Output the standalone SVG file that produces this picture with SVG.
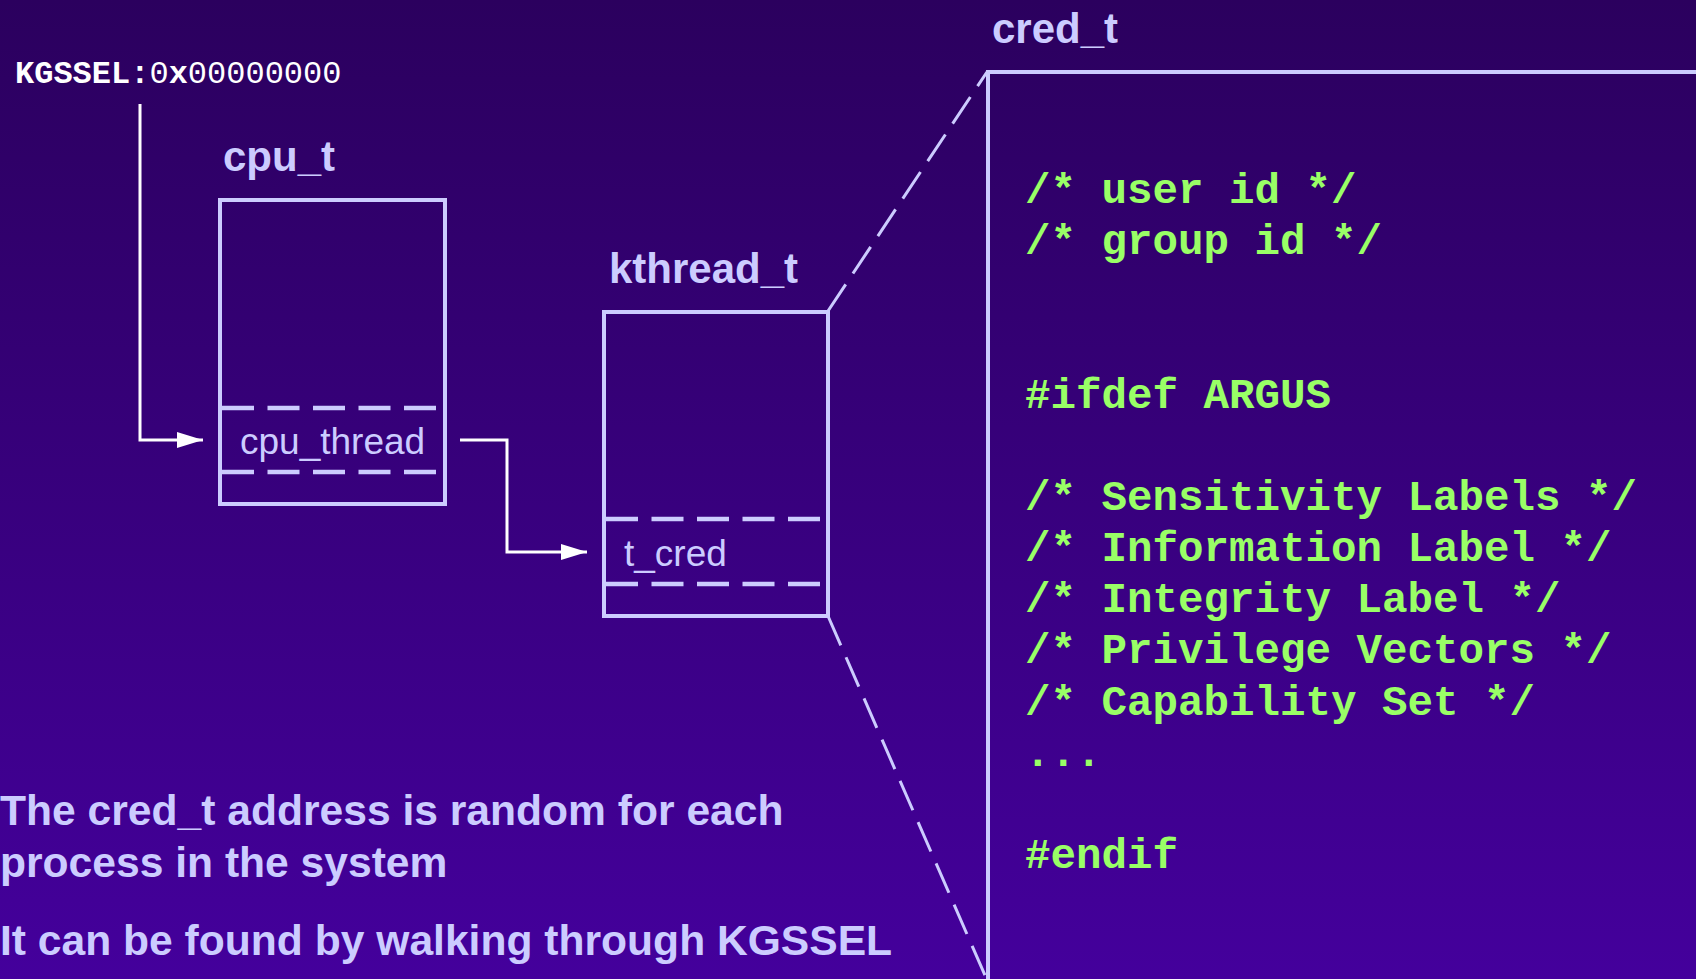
<svg xmlns="http://www.w3.org/2000/svg" width="1696" height="979" viewBox="0 0 1696 979">
<defs>
<linearGradient id="bg" x1="0" y1="0" x2="0" y2="1">
<stop offset="0" stop-color="#2b005e"/>
<stop offset="1" stop-color="#44009c"/>
</linearGradient>
<marker id="arr" viewBox="0 0 26 16" refX="26" refY="8" markerWidth="26" markerHeight="16" markerUnits="userSpaceOnUse" orient="auto">
<path d="M0,0 L26,8 L0,16 Z" fill="#ffffff"/>
</marker>
<style>
.box{fill:none;stroke:#ccccff;stroke-width:4}
.dash{fill:none;stroke:#ccccff;stroke-width:4.5;stroke-dasharray:32 13.5}
.diag{fill:none;stroke:#ccccff;stroke-width:3;stroke-dasharray:32 13}
.conn{fill:none;stroke:#ffffff;stroke-width:3}
.title{font-family:"Liberation Sans",Arial,sans-serif;font-weight:bold;font-size:42px;fill:#ccccff}
.field{font-family:"Liberation Sans",Arial,sans-serif;font-size:37px;fill:#ccccff}
.code{font-family:"Liberation Mono","Courier New",monospace;font-weight:bold;font-size:42.5px;fill:#99ff66;white-space:pre}
.note{font-family:"Liberation Sans",Arial,sans-serif;font-weight:bold;font-size:42.6px;fill:#ccccff}
</style>
</defs>
<rect width="1696" height="979" fill="url(#bg)"/>

<g id="kgssel">
<text x="15" y="83" font-family="'Liberation Mono','Courier New',monospace" font-size="32" fill="#ffffff"><tspan font-weight="bold">KGSSEL:</tspan>0<tspan font-weight="bold">x</tspan>00000000</text>
</g>

<g id="cpu_t">
<text class="title" x="223" y="171">cpu_t</text>
<rect class="box" x="220" y="200" width="225" height="304"/>
<line class="dash" x1="222" y1="408" x2="440" y2="408"/>
<line class="dash" x1="222" y1="472" x2="440" y2="472"/>
<text class="field" x="240" y="454">cpu_thread</text>
</g>

<g id="kthread_t">
<text class="title" x="609" y="283">kthread_t</text>
<rect class="box" x="604" y="312" width="224" height="304"/>
<line class="dash" x1="606" y1="519" x2="824" y2="519"/>
<line class="dash" x1="606" y1="584" x2="824" y2="584"/>
<text class="field" x="624" y="566">t_cred</text>
</g>

<g id="cred_t">
<text class="title" x="992" y="43">cred_t</text>
<path class="box" d="M1700,72 L988,72 L988,985"/>
<text class="code" x="1025" y="203">/* user id */</text>
<text class="code" x="1025" y="254">/* group id */</text>
<text class="code" x="1025" y="408">#ifdef ARGUS</text>
<text class="code" x="1025" y="510">/* Sensitivity Labels */</text>
<text class="code" x="1025" y="561">/* Information Label */</text>
<text class="code" x="1025" y="612">/* Integrity Label */</text>
<text class="code" x="1025" y="663">/* Privilege Vectors */</text>
<text class="code" x="1025" y="715">/* Capability Set */</text>
<text class="code" x="1025" y="766">...</text>
<text class="code" x="1025" y="868">#endif</text>
</g>

<g id="note">
<text class="note" x="0" y="825">The cred_t address is random for each</text>
<text class="note" x="0" y="877">process in the system</text>
<text class="note" x="0" y="955">It can be found by walking through KGSSEL</text>
</g>

<g id="connectors">
<polyline class="conn" points="140,104 140,440 203,440" marker-end="url(#arr)"/>
<polyline class="conn" points="460,440 507,440 507,552 587,552" marker-end="url(#arr)"/>
<line class="diag" x1="828" y1="311" x2="987" y2="72"/>
<line class="diag" x1="828" y1="616" x2="987" y2="980"/>
</g>
</svg>
